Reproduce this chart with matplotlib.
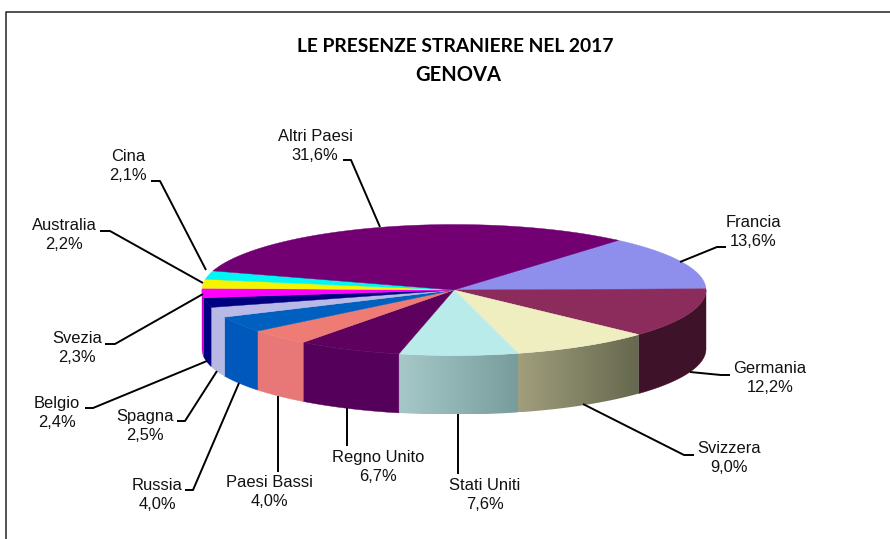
import numpy as np
import matplotlib
matplotlib.use('Agg')
import matplotlib.pyplot as plt
from matplotlib.patches import Polygon

# data
paesi = ['Francia', 'Germania', 'Svizzera', 'Stati Uniti', 'Regno Unito', 'Paesi Bassi', 'Russia',
         'Spagna', 'Belgio', 'Svezia', 'Australia', 'Cina', 'Altri Paesi']
quote = [13.6, 12.2, 9.0, 7.6, 6.7, 4.0, 4.0, 2.5, 2.4, 2.3, 2.2, 2.1, 31.6]
colori = ['#8E8EEC', '#8B2C5C', '#EEEEC0', '#BAEBEB', '#5E005E', '#EE7B74', '#0060C0',
          '#B9B9E8', '#000080', '#FF00FF', '#F5F500', '#00F5F5', '#730073']
# side wall colours, left -> right
pareti = [None, ('#3E1228', '#3E1228'), ('#A09E7C', '#66684F'), ('#A6C8C8', '#789C9C'),
          ('#55005A', '#55005A'), ('#E87878', '#E87878'), ('#0058BC', '#0058BC'),
          ('#B8B8E4', '#B8B8E4'), ('#000080', '#000080'), ('#D000D0', '#D000D0'), None, None, None]

# pie geometry, pixels
cx, cy = 454, 290
rx, ry = 252, 65.5
depth = 59
start = 50.0

# label centres and leader lines, pixels
label_pos = [(753, 232), (770, 378), (729, 458), (485, 495), (378, 467), (269, 492), (157, 495),
             (145, 426), (57, 413), (77, 348), (64, 235), (128, 166), (315, 146)]
leaders = [
    [(680, 262), (717, 247), (726, 247)],
    [(690, 372), (721, 375), (730, 375)],
    [(583, 404), (684, 455), (694, 455)],
    [(458, 414), (458, 474)],
    [(347, 408), (347, 446)],
    [(278, 396), (278, 472)],
    [(239, 383), (193, 490), (185, 490)],
    [(217, 371), (185, 421), (177, 421)],
    [(207, 361), (93, 408), (85, 408)],
    [(203, 294), (115, 344), (105, 344)],
    [(203, 283), (110, 231), (100, 231)],
    [(206, 270), (160, 181), (151, 181)],
    [(380, 227), (351, 160), (343, 160)],
]


def rim(a1, a2, n=60):
    t = np.radians(np.linspace(a1, a2, n))
    return cx + rx * np.cos(t), cy - ry * np.sin(t)


fig = plt.figure(figsize=(8.9, 5.39), dpi=100)
ax = fig.add_axes([0, 0, 1, 1])
ax.set_xlim(0, 890)
ax.set_ylim(539, 0)
ax.axis('off')

# frame
ax.plot([5.5, 5.5, 890], [539, 11.5, 11.5], color='#222222', lw=1.1, zorder=1)

ang = start
for i in range(len(paesi)):
    a1 = ang
    a2 = ang - quote[i] * 3.6
    ang = a2

    # side wall, front half only
    w1, w2 = min(a1, 0), max(a2, -180)
    if pareti[i] is not None and w1 > w2:
        xs, ys = rim(w1, w2)
        pts = np.r_[np.c_[xs, ys], np.c_[xs, ys + depth][::-1]]
        c1, c2 = pareti[i]
        if c1 == c2:
            ax.add_patch(Polygon(pts, closed=True, fc=c1, ec=c1, lw=0.3, zorder=2))
        else:
            poly = Polygon(pts, closed=True, fc='none', ec='none', zorder=2)
            ax.add_patch(poly)
            left, right = np.array(matplotlib.colors.to_rgb(c1)), np.array(matplotlib.colors.to_rgb(c2))
            if xs.min() < xs.max():
                grad = np.linspace(0, 1, 64)[None, :, None]
                img = left[None, None, :] * (1 - grad) + right[None, None, :] * grad
                im = ax.imshow(img, extent=(xs.min(), xs.max(), ys.max() + depth, ys.min()),
                               aspect='auto', zorder=2, interpolation='bilinear')
                im.set_clip_path(poly)

    # top face
    xs, ys = rim(a1, a2)
    pts = np.r_[[[cx, cy]], np.c_[xs, ys]]
    ax.add_patch(Polygon(pts, closed=True, fc=colori[i], ec=colori[i], lw=0.3, zorder=3))

ax.set_xlim(0, 890)
ax.set_ylim(539, 0)

# leader lines and labels
for i, nome in enumerate(paesi):
    lx, ly = zip(*leaders[i])
    ax.plot(lx, ly, color='black', lw=1.4, zorder=4, solid_capstyle='butt')
    testo = nome + '\n' + f'{quote[i]:.1f}'.replace('.', ',') + '%'
    ax.text(label_pos[i][0], label_pos[i][1], testo, ha='center', va='center', fontsize=11.9,
            family='Liberation Sans', color='#111111', linespacing=1.38, zorder=5)

# titles
ax.text(455, 47, 'LE PRESENZE STRANIERE NEL 2017', ha='center', va='center', fontsize=13.9,
        family='Lato', weight='bold', color='black')
ax.text(458.5, 75, 'GENOVA', ha='center', va='center', fontsize=14.5,
        family='Lato', weight='bold', color='black')

fig.savefig('out.png', dpi=100)
